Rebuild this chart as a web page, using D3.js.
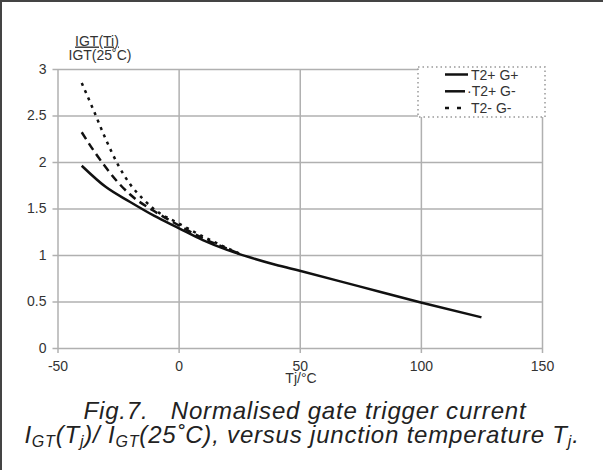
<!DOCTYPE html>
<html>
<head>
<meta charset="utf-8">
<script src="https://cdn.jsdelivr.net/npm/d3@7"></script>
<style>
  body { margin: 0; background: #fff; }
  text { font-family: "Liberation Sans", Arial, sans-serif; }
</style>
</head>
<body>
<script>
//data
const xTicks = [-50, 0, 50, 100, 150];
const yTicks = [0, 0.5, 1, 1.5, 2, 2.5, 3];
const seriesNames = ["T2+ G+", "·T2+ G-", "T2- G-"];
const tempGG = [-40, -30, -20, -10, 0, 10, 20, 30, 40, 50, 75, 100, 125];
const valGG = [1.96, 1.73, 1.57, 1.42, 1.29, 1.16, 1.055, 0.97, 0.895, 0.83, 0.66, 0.49, 0.33];
const tempGm = [-40, -35, -30, -25, -20, -10, 0, 10, 20, 25];
const valGm = [2.32, 2.12, 1.94, 1.78, 1.65, 1.47, 1.32, 1.18, 1.07, 1.015];
const tempMm = [-40, -35, -30, -25, -20, -15, -10, 0, 10, 20, 25];
const valMm = [2.85, 2.55, 2.24, 1.97, 1.76, 1.61, 1.49, 1.34, 1.2, 1.075, 1.015];

window.onload = function () {
    const w = 603, h = 470;
    const plot = { left: 57.5, right: 542, top: 69, bottom: 348 };

    var svg = d3.select("body")
        .append("svg")
        .attr("width", w)
        .attr("height", h);

    //frame on the top and left edge
    svg.append("path")
        .attr("d", `M1,${h} L1,1 L${w},1`)
        .style("fill", "none")
        .style("stroke", "#444")
        .style("stroke-width", 2);

    //scales
    var x = d3.scaleLinear()
        .domain([-50, 150])
        .range([plot.left, plot.right]);

    var y = d3.scaleLinear()
        .domain([0, 3])
        .range([plot.bottom, plot.top]);

    //y axis with gridlines
    var yAxis = svg.append("g")
        .attr("transform", `translate(${plot.left},0)`)
        .call(d3.axisLeft(y).tickValues(yTicks).tickFormat(d => String(d))
            .tickSizeOuter(0).tickSizeInner(-(plot.right - plot.left)).tickPadding(11));
    yAxis.select(".domain").remove();
    yAxis.selectAll("line")
        .attr("x1", -5)
        .style("stroke", "#b0b0b0")
        .style("stroke-width", 1.5);
    yAxis.selectAll("text")
        .style("font-size", "14px")
        .style("fill", "#333");

    //x axis with gridlines
    var xAxis = svg.append("g")
        .attr("transform", `translate(0,${plot.bottom})`)
        .call(d3.axisBottom(x).tickValues(xTicks).tickFormat(d => String(d))
            .tickSizeOuter(0).tickSizeInner(-(plot.bottom - plot.top)).tickPadding(13));
    xAxis.select(".domain").remove();
    xAxis.selectAll("line")
        .attr("y1", 5)
        .style("stroke", "#b0b0b0")
        .style("stroke-width", 1.5);
    xAxis.selectAll("text")
        .style("font-size", "14px")
        .style("fill", "#333");

    //series
    const series = [
        { t: tempMm, v: valMm, dash: "3,5" },
        { t: tempGm, v: valGm, dash: "8,5" },
        { t: tempGG, v: valGG, dash: null }
    ];
    var line = d3.line()
        .x(d => x(d[0]))
        .y(d => y(d[1]))
        .curve(d3.curveMonotoneX);

    svg.selectAll(".series")
        .data(series)
        .enter()
        .append("path")
        .attr("class", "series")
        .attr("d", s => line(s.t.map((t, i) => [t, s.v[i]])))
        .style("fill", "none")
        .style("stroke", "#111")
        .style("stroke-width", 2.5)
        .style("stroke-dasharray", s => s.dash);

    //legend
    var legend = svg.append("g").attr("transform", "translate(418,67)");
    legend.append("rect")
        .attr("width", 127)
        .attr("height", 50)
        .style("fill", "#fff")
        .style("stroke", "#999")
        .style("stroke-width", 1.5)
        .style("stroke-dasharray", "1.5,3");
    const legDash = [null, "20,3", "4,8"];
    seriesNames.forEach((n, i) => {
        var row = legend.append("g").attr("transform", `translate(0,${7.5 + i * 16.8})`);
        row.append("line")
            .attr("x1", 27).attr("x2", 50)
            .style("stroke", "#111")
            .style("stroke-width", 2.5)
            .style("stroke-dasharray", legDash[i]);
        row.append("text")
            .attr("x", i == 1 ? 49 : 53)
            .attr("y", 5)
            .style("font-size", "14px")
            .style("fill", "#333")
            .text(n);
    });

    //axis titles
    svg.append("text")
        .attr("x", 97).attr("y", 45.5)
        .attr("text-anchor", "middle")
        .style("font-size", "14px")
        .style("fill", "#333")
        .style("text-decoration", "underline")
        .text("IGT(Ti)");
    svg.append("text")
        .attr("x", 100).attr("y", 60)
        .attr("text-anchor", "middle")
        .style("font-size", "14px")
        .style("fill", "#333")
        .text("IGT(25˚C)");
    svg.append("text")
        .attr("x", 301).attr("y", 383)
        .attr("text-anchor", "middle")
        .style("font-size", "14px")
        .style("fill", "#333")
        .text("Tj/°C");

    //caption
    svg.append("text")
        .attr("x", 305).attr("y", 419)
        .attr("text-anchor", "middle")
        .style("font-size", "24px")
        .style("font-style", "italic")
        .style("letter-spacing", "0.8px")
        .style("fill", "#222")
        .style("white-space", "pre")
        .text("Fig.7.   Normalised gate trigger current");

    var cap2 = svg.append("text")
        .attr("x", 302).attr("y", 443)
        .attr("text-anchor", "middle")
        .style("font-size", "24px")
        .style("font-style", "italic")
        .style("letter-spacing", "0.8px")
        .style("fill", "#222");
    const parts = [["I", 0], ["GT", 1], ["(T", 0], ["j", 1], [")/ I", 0], ["GT", 1],
        ["(25˚C), versus junction temperature T", 0], ["j", 1], [".", 0]];
    let sub = false;
    parts.forEach(p => {
        var ts = cap2.append("tspan").text(p[0]);
        if (p[1] && !sub) { ts.attr("dy", 4).style("font-size", "16px"); sub = true; }
        else if (p[1]) { ts.style("font-size", "16px"); }
        else if (sub) { ts.attr("dy", -4); sub = false; }
    });
};
</script>
</body>
</html>
